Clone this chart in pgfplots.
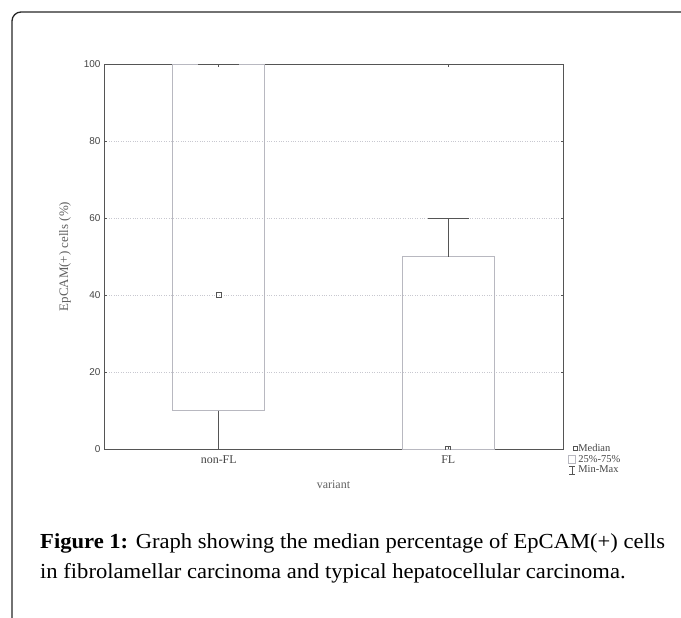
\documentclass[border=0pt]{standalone}
\usepackage{pgfplots}
\pgfplotsset{compat=1.18}
\usepackage{fontspec}
\setmainfont{Liberation Serif}
\setsansfont{Liberation Sans}
\newfontfamily\capfont{Liberation Serif}[FakeStretch=1.055]
\definecolor{axisgray}{HTML}{555555}
\definecolor{boxgray}{HTML}{B8B8C0}
\definecolor{gridgray}{HTML}{C8C8D0}
\definecolor{txtgray}{HTML}{444444}
\definecolor{labgray}{HTML}{606060}
\begin{document}
\begin{tikzpicture}
\useasboundingbox (0,0) rectangle (681bp,-618bp);
\draw[line width=1.3bp, rounded corners=9bp, black!85] (12bp,-620bp) -- (12bp,-12bp) -- (683bp,-12bp);
\begin{axis}[
  at={(104bp,-449bp)}, anchor=south west,
  scale only axis, width=459bp, height=385bp,
  xmin=-0.5, xmax=1.5, ymin=0, ymax=100,
  xtick={0,1}, xticklabels={non-FL,FL},
  ytick={0,20,40,60,80,100},
  ymajorgrids, grid style={gridgray, dotted, line width=0.8bp},
  axis line style={axisgray, line width=1bp},
  tick style={axisgray, line width=0.8bp},
  major tick length=2.5bp, tick align=inside,
  /pgf/number format/assume math mode=true,
  yticklabel style={font=\sffamily\fontsize{10}{12}\selectfont, text=txtgray},
  xticklabel style={font=\fontsize{12}{14}\selectfont, text=txtgray, yshift=-3bp},
  xlabel={variant}, ylabel={EpCAM(+) cells (\%)},
  every axis x label/.style={at={(axis description cs:0.5,-0.0935)}, anchor=center, font=\fontsize{12}{14}\selectfont, text=labgray},
  every axis y label/.style={at={(axis description cs:-0.085,0.5)}, anchor=center, rotate=90, font=\fontsize{13}{14}\selectfont, text=labgray},
  unbounded coords=jump,
  clip marker paths=true,
  legend style={at={(axis description cs:1,0)}, anchor=north west, xshift=4bp, yshift=6bp, draw=none, fill=none,
    font=\fontsize{10.5}{11}\selectfont, text=txtgray, row sep=0.5bp, inner sep=0.5bp,
    nodes={inner sep=0.8bp}},
  legend cell align=left,
]
% boxes: 25%-75%
\addplot[boxgray, line width=0.9bp, forget plot] coordinates {(-0.2,10) (0.2,10) (0.2,100) (-0.2,100) (-0.2,10)};
\addplot[boxgray, line width=0.9bp, forget plot] coordinates {(0.8,0) (1.2,0) (1.2,50) (0.8,50) (0.8,0)};
% whiskers: min-max
\addplot[axisgray, line width=1bp, forget plot] coordinates {(0,10) (0,0) (nan,nan) (-0.09,0) (0.09,0) (nan,nan) (-0.09,100) (0.09,100)};
\addplot[axisgray, line width=1bp, forget plot] coordinates {(1,50) (1,60) (nan,nan) (0.91,60) (1.09,60)};
% medians
\addplot[only marks, mark=square, mark size=2.3bp, mark options={draw=axisgray, line width=1bp}, forget plot]
  coordinates {(0,40) (1,0)};
% legend
\addlegendimage{only marks, mark=square, mark size=2bp, mark options={draw=axisgray, line width=0.9bp}}
\addlegendentry{Median}
\addlegendimage{legend image code/.code={\draw[boxgray, line width=0.8bp] (1bp,-4bp) rectangle (8.5bp,4bp);}}
\addlegendentry{25\%-75\%}
\addlegendimage{legend image code/.code={\draw[axisgray, line width=0.9bp] (5bp,-4bp) -- (5bp,4bp) (2bp,4bp) -- (8bp,4bp) (2bp,-4bp) -- (8bp,-4bp);}}
\addlegendentry{Min-Max}
\end{axis}
\node[anchor=base west, align=left, font=\capfont\fontsize{21.5}{30}\selectfont, inner sep=0pt] at (40bp,-578bp)
  {\textbf{Figure 1:} Graph showing the median percentage of EpCAM(+) cells\\in fibrolamellar carcinoma and typical hepatocellular carcinoma.};
\end{tikzpicture}
\end{document}
